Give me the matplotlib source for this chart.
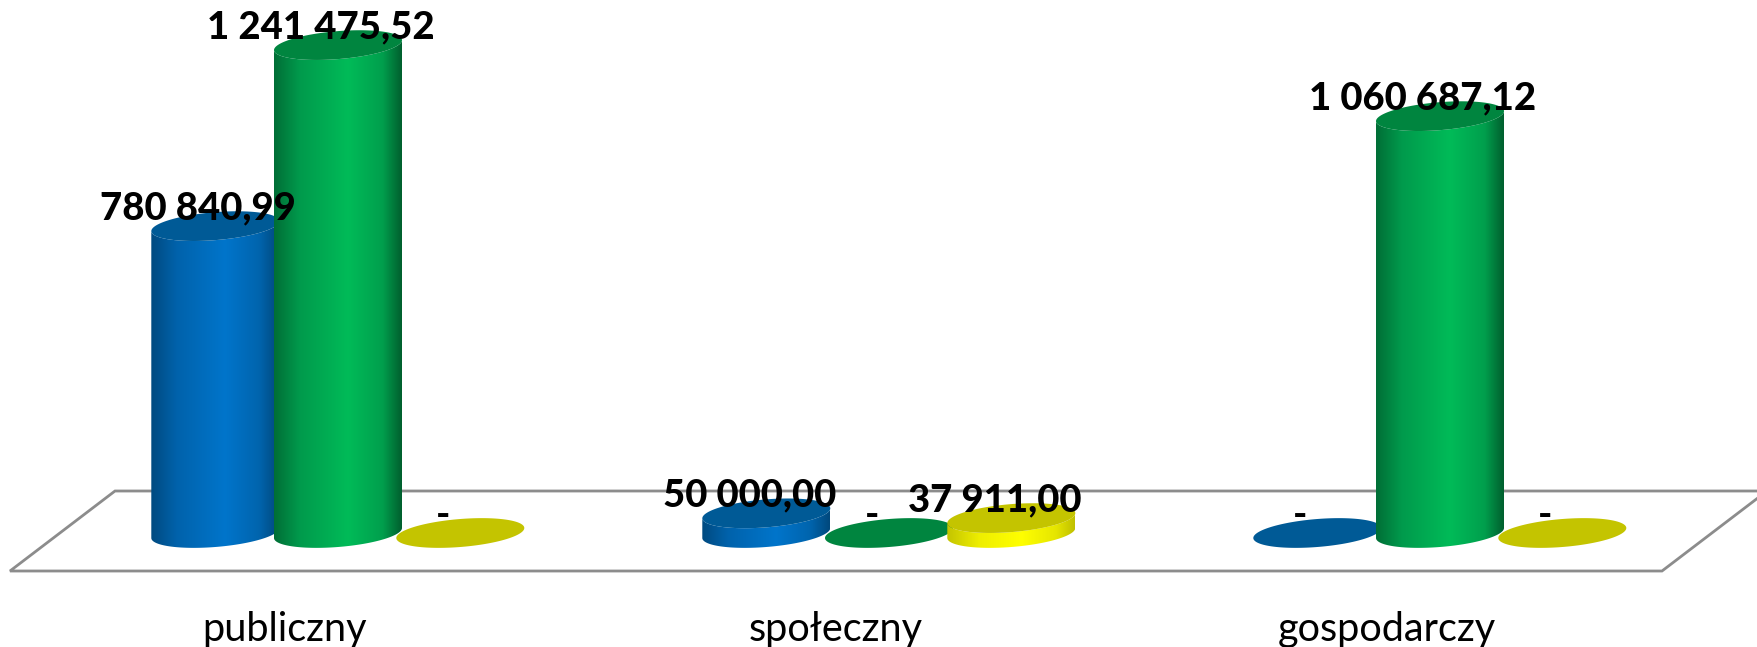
import numpy as np
import matplotlib
matplotlib.use('Agg')
import matplotlib.pyplot as plt
from matplotlib.colors import LinearSegmentedColormap
from matplotlib.patches import Polygon

categories = ['publiczny', 'społeczny', 'gospodarczy']
blue_values = [780840.99, 50000.00, 0]
green_values = [1241475.52, 0, 1060687.12]
yellow_values = [0, 37911.00, 0]
blue_labels = ['780 840,99', '50 000,00', '-']
green_labels = ['1 241 475,52', '-', '1 060 687,12']
yellow_labels = ['-', '37 911,00', '-']

W, H = 1758, 647
PX_X = 551.0        # pixels per category
PX_Y = 0.000393     # pixels per unit
X0, Y0 = 338.0, 533.0  # pixel position of category 0, value 0


def dx(px):
    return px / PX_X


def dy(px):
    return px / PX_Y


def ellipse(cx, v, upper=True):
    t = np.linspace(0, 2 * np.pi, 181)
    if not upper:
        t = np.linspace(np.pi, 2 * np.pi, 91)
    x = cx + dx(64) * np.cos(t)
    y = v + dy(14) * np.sin(t) + dy(5) * np.cos(t)
    return np.column_stack([x, y])


def cylinder(ax, cx, v, cmap, top_color, z):
    if v > 0:
        base = ellipse(cx, 0, upper=False)
        top = ellipse(cx, v, upper=False)[::-1]
        body = Polygon(np.vstack([base, top]), closed=True, fc='none', ec='none',
                       transform=ax.transData)
        ax.add_patch(body)
        im = ax.imshow(np.linspace(0, 1, 256)[None, :], cmap=cmap, aspect='auto',
                       extent=[cx - dx(64), cx + dx(64), -dy(20), v + dy(20)],
                       interpolation='bilinear', zorder=z)
        im.set_clip_path(body)
        body.set_zorder(z)
    ax.add_patch(Polygon(ellipse(cx, v), closed=True, fc=top_color, ec='none', zorder=z + 0.1))


blue_cmap = LinearSegmentedColormap.from_list(
    'b', [(0, '#004a80'), (0.2, '#0062ab'), (0.58, '#0075cb'), (0.85, '#0064ad'), (1, '#00487c')])
green_cmap = LinearSegmentedColormap.from_list(
    'g', [(0, '#006e36'), (0.2, '#009a4c'), (0.58, '#00bb58'), (0.85, '#009f4d'), (1, '#005f2e')])
yellow_cmap = LinearSegmentedColormap.from_list(
    'y', [(0, '#c4c400'), (0.25, '#eeee00'), (0.58, '#ffff00'), (0.85, '#e6e600'), (1, '#c0c000')])

series = [
    (blue_values, blue_labels, blue_cmap, '#005a96', -122.7),
    (green_values, green_labels, green_cmap, '#00853f', 0.0),
    (yellow_values, yellow_labels, yellow_cmap, '#c4c400', 122.3),
]

fig = plt.figure(figsize=(W / 100, H / 100), dpi=100)
ax = fig.add_axes([0, 0, 1, 1])
ax.axis('off')

# floor
floor_x = [dx(10 - X0), dx(1662 - X0), dx(1767 - X0), dx(115 - X0)]
floor_y = [dy(Y0 - 571), dy(Y0 - 571), dy(Y0 - 491), dy(Y0 - 491)]
ax.add_patch(Polygon(np.column_stack([floor_x, floor_y]), closed=True, fc='white',
                     ec='#8c8c8c', lw=2, zorder=1))

z = 2
for i, cat in enumerate(categories):
    for values, labels, cmap, top_color, offset in series:
        cx = i + dx(offset)
        cylinder(ax, cx, values[i], cmap, top_color, z)
        z += 1
        ax.annotate(labels[i], (cx, values[i]), xytext=(-17 * 0.72, 18 * 0.72),
                    textcoords='offset points', ha='center', va='center',
                    fontsize=27.5, fontweight='black', family='Lato', color='black', zorder=100)
    ax.text(i - dx(53), dy(Y0 - 630), cat, ha='center', va='center',
            fontsize=28.5, family='Lato', color='black', zorder=100)

ax.set_xlim(dx(-X0), dx(W - X0))
ax.set_ylim(dy(Y0 - H), dy(Y0))
fig.savefig('out.png', dpi=100)
